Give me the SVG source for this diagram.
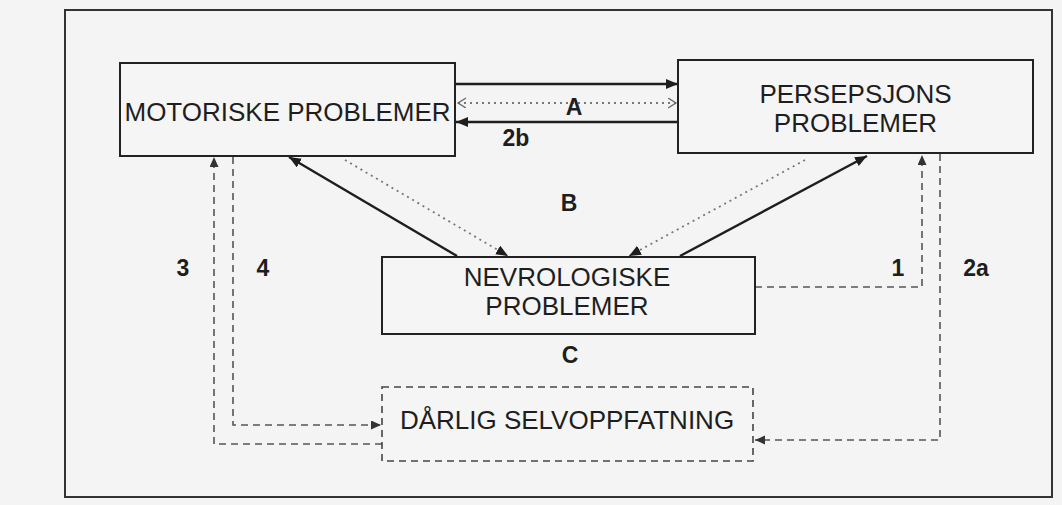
<svg xmlns="http://www.w3.org/2000/svg" width="1062" height="505" viewBox="0 0 1062 505">
<style>
.box{fill:#f5f5f5;stroke:#222;stroke-width:2}
.dbox{fill:#f5f5f5;stroke:#444;stroke-width:1.6;stroke-dasharray:7,5}
.t{font-family:"Liberation Sans",Arial,sans-serif;font-size:26px;fill:#1e1e1e;text-anchor:middle}
.lb{font-family:"Liberation Sans",Arial,sans-serif;font-size:23px;font-weight:bold;fill:#1e1e1e;text-anchor:middle}
.solid{fill:none;stroke:#1e1e1e;stroke-width:2.4}
.dot{fill:none;stroke:#777;stroke-width:1.8;stroke-dasharray:2,4}
.dash{fill:none;stroke:#555;stroke-width:1.6;stroke-dasharray:7,5}
</style>
<defs>
<marker id="ah" markerUnits="userSpaceOnUse" markerWidth="14" markerHeight="12" refX="12" refY="5" orient="auto">
<path d="M0,0 L12,5 L0,10 z" fill="#1e1e1e"/>
</marker>
<marker id="ahs" markerUnits="userSpaceOnUse" markerWidth="12" markerHeight="10" refX="10" refY="4.5" orient="auto">
<path d="M0,0 L10,4.5 L0,9 z" fill="#333"/>
</marker>
<marker id="chev" markerUnits="userSpaceOnUse" markerWidth="10" markerHeight="12" refX="8" refY="5" orient="auto-start-reverse">
<path d="M0,0 L8,5 L0,10" fill="none" stroke="#666" stroke-width="1.3"/>
</marker>
</defs>
<rect width="1062" height="505" fill="#f4f4f4"/>
<rect id="frame" x="65" y="10" width="987" height="487" fill="none" stroke="#333" stroke-width="2"/>
<g id="connectors">
<line class="solid" x1="456" y1="84" x2="678" y2="84" marker-end="url(#ah)"/>
<line class="solid" x1="678" y1="122" x2="456" y2="122" marker-end="url(#ah)"/>
<line class="dot" x1="458" y1="103" x2="676" y2="103" marker-start="url(#chev)" marker-end="url(#chev)"/>
<line class="solid" x1="457" y1="256" x2="289" y2="157" marker-end="url(#ah)"/>
<line class="solid" x1="680" y1="256" x2="867" y2="156" marker-end="url(#ah)"/>
<line class="dot" x1="345" y1="160" x2="508" y2="256" marker-end="url(#ah)"/>
<line class="dot" x1="805" y1="160" x2="629" y2="256" marker-end="url(#ah)"/>
<polyline class="dash" points="755,287 922,287 922,155" marker-end="url(#ahs)"/>
<polyline class="dash" points="940,154 940,440 755,440" marker-end="url(#ahs)"/>
<polyline class="dash" points="382,444 214,444 214,157" marker-end="url(#ahs)"/>
<polyline class="dash" points="233,157 233,425 381,425" marker-end="url(#ahs)"/>
</g>
<g id="motor">
<rect class="box" x="120" y="63" width="335" height="93"/>
<text class="t" x="287.5" y="121">MOTORISKE PROBLEMER</text>
</g>
<g id="persep">
<rect class="box" x="678" y="60" width="355" height="93"/>
<text class="t" x="855.5" y="103">PERSEPSJONS</text>
<text class="t" x="855.5" y="132">PROBLEMER</text>
</g>
<g id="nevro">
<rect class="box" x="382" y="257" width="373" height="77"/>
<text class="t" x="567" y="286">NEVROLOGISKE</text>
<text class="t" x="567" y="315">PROBLEMER</text>
</g>
<g id="darlig">
<rect class="dbox" x="382" y="387" width="371" height="74"/>
<text class="t" x="567" y="429">DÅRLIG SELVOPPFATNING</text>
</g>
<g id="labels">
<text class="lb" x="574" y="115">A</text>
<text class="lb" x="516" y="146">2b</text>
<text class="lb" x="569" y="211">B</text>
<text class="lb" x="570" y="363">C</text>
<text class="lb" x="183" y="276">3</text>
<text class="lb" x="263" y="276">4</text>
<text class="lb" x="898" y="276">1</text>
<text class="lb" x="976" y="276">2a</text>
</g>
</svg>
